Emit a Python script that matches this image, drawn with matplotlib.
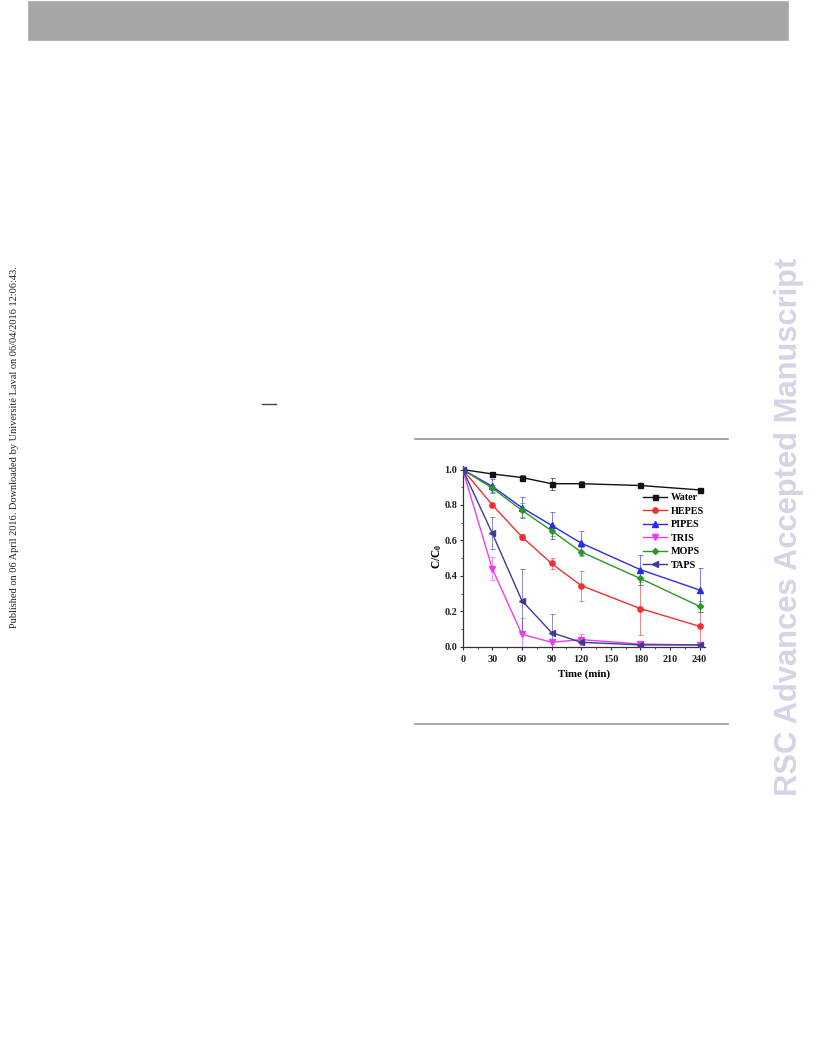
import numpy as np
import matplotlib.pyplot as plt
from matplotlib.lines import Line2D
from matplotlib.patches import Rectangle

# ---- data ----
time = [0, 30, 60, 90, 120, 180, 240]

water = [1.0, 0.975, 0.955, 0.92, 0.92, 0.91, 0.885]
water_err = [0.0, 0.01, 0.012, 0.035, 0.015, 0.01, 0.01]

hepes = [1.0, 0.80, 0.62, 0.47, 0.345, 0.215, 0.115]
hepes_err = [0.0, 0.01, 0.015, 0.03, 0.085, 0.15, 0.11]

pipes = [1.0, 0.905, 0.785, 0.685, 0.585, 0.435, 0.32]
pipes_err = [0.0, 0.04, 0.06, 0.075, 0.07, 0.085, 0.125]

tris = [1.0, 0.44, 0.07, 0.025, 0.04, 0.015, 0.01]
tris_err = [0.0, 0.065, 0.09, 0.01, 0.03, 0.01, 0.005]

mops = [1.0, 0.895, 0.77, 0.655, 0.535, 0.385, 0.228]
mops_err = [0.0, 0.02, 0.04, 0.03, 0.025, 0.035, 0.03]

taps = [1.0, 0.64, 0.26, 0.08, 0.025, 0.01, 0.01]
taps_err = [0.0, 0.09, 0.18, 0.105, 0.01, 0.005, 0.005]

labels = ["Water", "HEPES", "PIPES", "TRIS", "MOPS", "TAPS"]
xticks = [0, 30, 60, 90, 120, 150, 180, 210, 240]
yticks = [0.0, 0.2, 0.4, 0.6, 0.8, 1.0]

series = [water, hepes, pipes, tris, mops, taps]
errors = [water_err, hepes_err, pipes_err, tris_err, mops_err, taps_err]
colors = ["#111111", "#f03030", "#2a2af0", "#f03cf0", "#2a962a", "#3c3c96"]
markers = ["s", "o", "^", "v", "D", "<"]
msizes = [3.6, 3.8, 3.8, 3.8, 3.0, 3.8]

plt.rcParams['mathtext.fontset'] = 'custom'
plt.rcParams['mathtext.bf'] = 'Liberation Serif:bold'
plt.rcParams['mathtext.rm'] = 'Liberation Serif'

W, H = 816, 1056
fig = plt.figure(figsize=(W/100, H/100), dpi=100)

def fx(px):
  return px / W
def fy(py):
  return 1 - py / H

# page decoration
fig.patches.append(Rectangle((fx(28), fy(40)), fx(788) - fx(28), fy(1) - fy(40),
  transform=fig.transFigure, facecolor='#a6a6a6', edgecolor='#b8b8b8', lw=0.8))
for yy in [439, 724]:
  fig.add_artist(Line2D([fx(415), fx(728)], [fy(yy), fy(yy)],
    transform=fig.transFigure, color='#a0a0a0', lw=1.3))
fig.add_artist(Line2D([fx(262), fx(276)], [fy(404), fy(404)],
  transform=fig.transFigure, color='#444444', lw=1.0))

fig.text(fx(15), fy(447), "Published on 06 April 2016. Downloaded by Université Laval on 06/04/2016 12:06:43.",
  rotation=90, ha='center', va='center', fontsize=7.5, family='Liberation Serif', color='#222222')
fig.text(fx(789), fy(527), "RSC Advances Accepted Manuscript", rotation=90,
  ha='center', va='center', fontsize=22.2, fontweight='bold', family='Liberation Sans', color='#d4d4e6')

# ---- the chart ----
ax = fig.add_axes([fx(462.7), fy(646.7), fx(704.5) - fx(462.7), fy(466) - fy(646.7)])
for s, e, c, m, ms, lab in zip(series, errors, colors, markers, msizes, labels):
  ax.errorbar(time, s, yerr=e, color=c, lw=0, elinewidth=0.6, capsize=1.8,
    capthick=0.6, alpha=0.7, zorder=2)
  ax.plot(time, s, color=c, marker=m, markersize=ms, lw=1.0, label=lab, zorder=3)

ax.set_xlim(0, 245)
ax.set_ylim(0, 1.02)
ax.set_xticks(xticks)
ax.set_yticks(yticks)
ax.set_yticklabels(["%.1f" % v for v in yticks])
ax.set_xticks(np.arange(15, 245, 30), minor=True)
ax.set_yticks([0.1, 0.3, 0.5, 0.7, 0.9], minor=True)
ax.spines['top'].set_visible(False)
ax.spines['right'].set_visible(False)
for sp in ['left', 'bottom']:
  ax.spines[sp].set_linewidth(0.9)
  ax.spines[sp].set_color('#333333')
ax.tick_params(axis='y', which='major', direction='out', length=2.5, width=0.8, pad=1.5, color='#333333')
ax.tick_params(axis='x', which='major', direction='out', length=2.5, width=0.8, pad=3.5, color='#333333')
ax.tick_params(which='minor', direction='out', length=1.5, width=0.6, color='#333333')
for t in ax.get_xticklabels() + ax.get_yticklabels():
  t.set_fontfamily('Liberation Serif')
  t.set_fontweight('bold')
  t.set_fontsize(7.3)
  t.set_color('#222222')

ax.set_xlabel("Time (min)", fontsize=7.8, fontweight='bold', family='Liberation Serif', labelpad=3.5)
ax.set_ylabel(r"$\mathbf{C/C_0}$", fontsize=8.3, labelpad=0.5)

ax.legend(loc='upper left', bbox_to_anchor=(fx(643), fy(493)), bbox_transform=fig.transFigure,
  frameon=False, borderpad=0, borderaxespad=0, handlelength=2.4, handletextpad=0.3,
  labelspacing=0.44, prop={'family': 'Liberation Serif', 'weight': 'bold', 'size': 7.3})

fig.savefig("out.png", dpi=100)
